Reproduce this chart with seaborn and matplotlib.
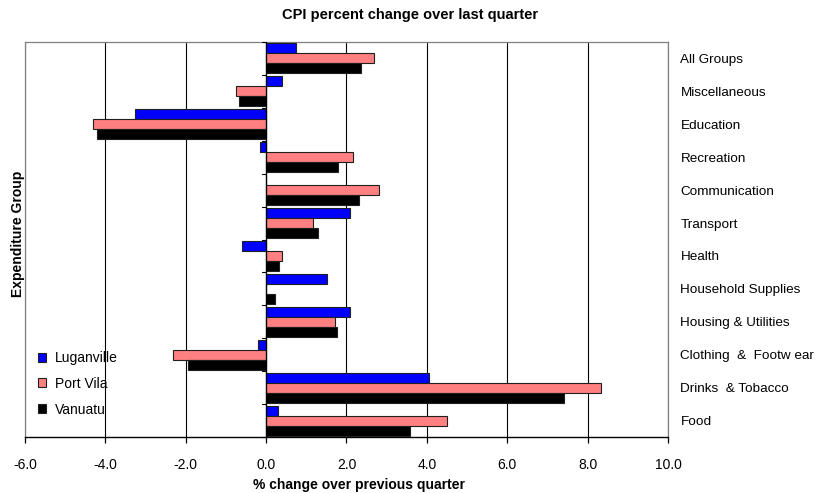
import matplotlib
matplotlib.use("Agg")
import matplotlib.pyplot as plt
import seaborn as sns
import pandas as pd
from matplotlib.ticker import FormatStrFormatter, MultipleLocator

categories = ["All Groups", "Miscellaneous", "Education", "Recreation", "Communication",
              "Transport", "Health", "Household Supplies", "Housing & Utilities",
              "Clothing  &  Footw ear", "Drinks  & Tobacco", "Food"]
series = ["Luganville", "Port Vila", "Vanuatu"]
luganville = [0.75, 0.40, -3.26, -0.15, 0.0, 2.08, -0.61, 1.51, 2.08, -0.19, 4.05, 0.29]
port_vila = [2.69, -0.76, -4.32, 2.17, 2.82, 1.16, 0.39, 0.0, 1.72, -2.32, 8.33, 4.50]
vanuatu = [2.37, -0.68, -4.21, 1.79, 2.31, 1.28, 0.31, 0.21, 1.77, -1.94, 7.41, 3.57]
colors = ["#0000FF", "#FF8080", "#000000"]

rows = []
for s, vals in zip(series, [luganville, port_vila, vanuatu]):
    for c, v in zip(categories, vals):
        rows.append({"Group": c, "Series": s, "Change": v})
df = pd.DataFrame(rows)

sns.set_style("white")
plt.rcParams["font.family"] = ["Liberation Sans", "DejaVu Sans"]
plt.rcParams["axes.unicode_minus"] = False
for k in ["text.color", "axes.labelcolor", "xtick.color", "ytick.color"]:
    plt.rcParams[k] = "black"

fig = plt.figure(figsize=(8.27, 4.93), dpi=100)
ax = fig.add_axes([25/827, 1-437/493, (668-25)/827, (437-42)/493])

sns.barplot(data=df, y="Group", x="Change", hue="Series", order=categories,
            hue_order=series, palette=colors, saturation=1, orient="h", width=0.91, gap=0,
            edgecolor="#202020", linewidth=0.8, ax=ax, zorder=3)

ax.set_xlim(-6, 10)
ax.set_ylim(len(categories) - 0.5, -0.5)
ax.xaxis.set_major_locator(MultipleLocator(2))
ax.xaxis.set_major_formatter(FormatStrFormatter("%.1f"))
ax.grid(axis="x", color="black", linewidth=0.8, zorder=0)
ax.grid(axis="y", visible=False)
ax.axvline(0, color="black", linewidth=0.9, zorder=4)
for b in range(len(categories) + 1):
    yb = b - 0.5
    ax.plot([-0.1, 0], [yb, yb], color="black", linewidth=0.8, zorder=4, clip_on=False)

for sp in ["top", "right", "left"]:
    ax.spines[sp].set_color("#808080")
    ax.spines[sp].set_linewidth(0.9)
ax.spines["bottom"].set_color("black")
ax.spines["bottom"].set_linewidth(1.0)

ax.tick_params(axis="x", bottom=True, length=4, width=0.9, color="black",
               labelsize=10, pad=11)
ax.tick_params(axis="y", left=False, right=False, length=0, labelleft=False,
               labelright=True, labelsize=9.7, pad=9)
for t in ax.get_yticklabels():
    t.set_horizontalalignment("left")

ax.set_xlabel("")
ax.set_ylabel("")
fig.text(359/827, 1-485/493, "% change over previous quarter", fontsize=10,
         fontweight="bold", ha="center", va="center")
fig.text(18/827, 1-234/493, "Expenditure Group", fontsize=10, fontweight="bold",
         ha="center", va="center", rotation=90)
fig.text(410/827, 1-15/493, "CPI percent change over last quarter", fontsize=10.5,
         fontweight="bold", ha="center", va="center")

leg = ax.legend(loc="lower left", bbox_to_anchor=(0.001, 0.02), frameon=False,
                fontsize=10, handlelength=0.6, handleheight=0.6, handletextpad=0.6,
                labelspacing=0.85)

fig.savefig("out.png", dpi=100)
